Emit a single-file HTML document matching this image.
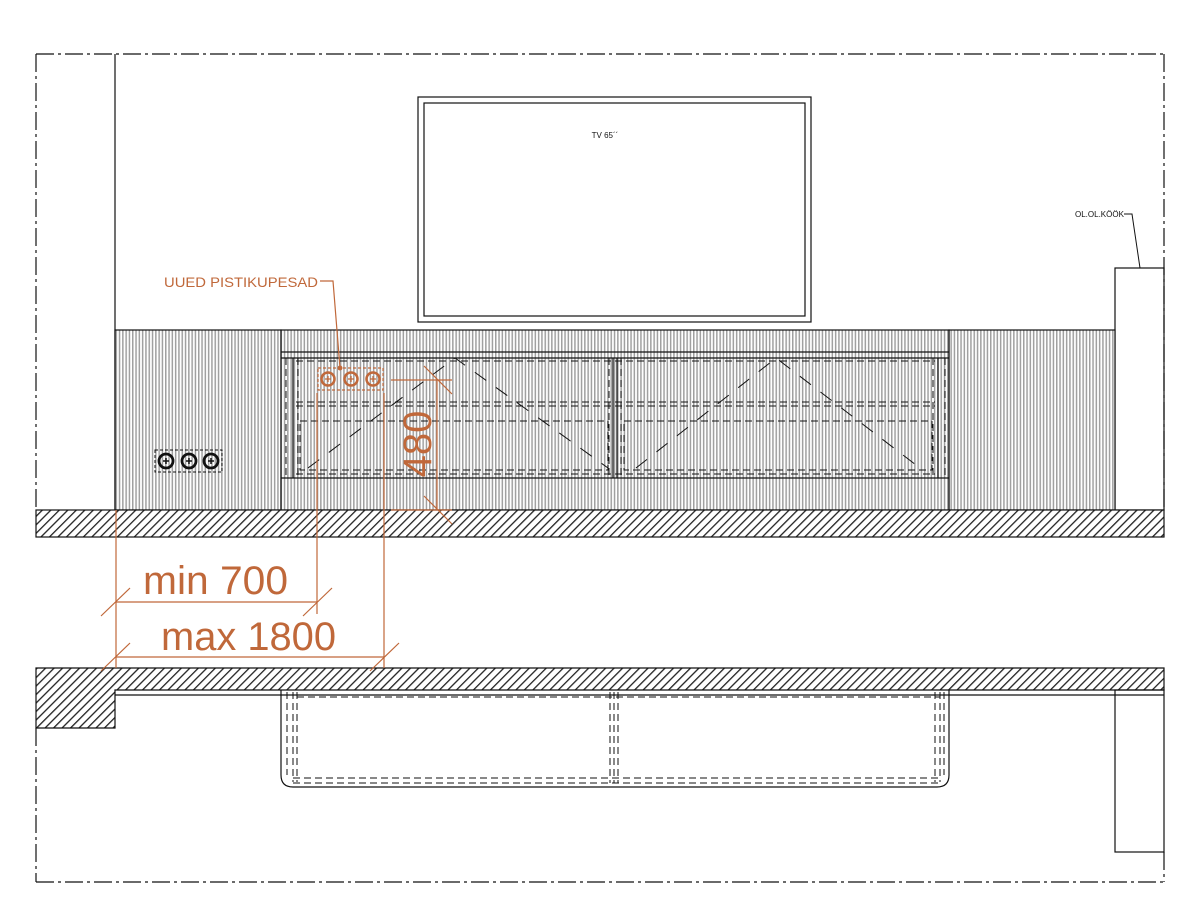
<!DOCTYPE html>
<html><head><meta charset="utf-8"><style>html,body{margin:0;padding:0;background:#fff}svg{display:block}</style></head>
<body>
<svg width="1198" height="916" viewBox="0 0 1198 916" xmlns="http://www.w3.org/2000/svg" font-family="Liberation Sans, sans-serif">
<defs>
<pattern id="flute" width="3.3" height="10" patternUnits="userSpaceOnUse"><rect width="3.3" height="10" fill="#fff"/><rect x="0" width="1.5" height="10" fill="#a0a0a0"/></pattern>
<pattern id="hatch" width="6" height="6" patternUnits="userSpaceOnUse" patternTransform="rotate(45)"><rect width="6" height="6" fill="#fff"/><rect width="1.3" height="6" fill="#222"/></pattern>
</defs>
<g fill="none" stroke="#111" stroke-width="1.2">
<g stroke-dasharray="18,4,3,4">
<line x1="36" y1="54" x2="1164" y2="54"/>
<line x1="36" y1="54" x2="36" y2="510"/>
<line x1="1164" y1="54" x2="1164" y2="510"/>
<line x1="36" y1="728" x2="36" y2="882"/>
<line x1="36" y1="882" x2="1164" y2="882"/>
<line x1="1164" y1="852" x2="1164" y2="882"/>
</g>
<line x1="115" y1="54" x2="115" y2="510"/>
<rect x="418" y="97" width="393" height="225"/>
<rect x="424" y="103" width="381" height="213"/>
<rect x="1115" y="268" width="49" height="242"/>
<rect x="115" y="330" width="166" height="180" fill="url(#flute)"/>
<rect x="949" y="330" width="166" height="180" fill="url(#flute)"/>
<rect x="281" y="330" width="668" height="180" fill="url(#flute)"/>
<line x1="281" y1="352" x2="949" y2="352"/>
<line x1="281" y1="358" x2="949" y2="358"/>
<line x1="281" y1="478" x2="949" y2="478"/>
<line x1="293" y1="358" x2="293" y2="478"/>
<line x1="613" y1="358" x2="613" y2="478"/>
<line x1="617" y1="358" x2="617" y2="478"/>
<line x1="938" y1="358" x2="938" y2="478"/>
<g stroke-dasharray="7,4" stroke-width="1">
<line x1="296" y1="361" x2="935" y2="361"/>
<line x1="296" y1="402" x2="935" y2="402"/>
<line x1="296" y1="406" x2="935" y2="406"/>
<rect x="300" y="421" width="308" height="49"/>
<rect x="624" y="421" width="308" height="49"/>
<line x1="296" y1="474" x2="935" y2="474"/>
<line x1="286" y1="358" x2="286" y2="478"/>
<line x1="298" y1="358" x2="298" y2="478"/>
<line x1="609" y1="358" x2="609" y2="478"/>
<line x1="621" y1="358" x2="621" y2="478"/>
<line x1="933" y1="358" x2="933" y2="478"/>
<line x1="945" y1="358" x2="945" y2="478"/>
</g>
<g stroke-dasharray="14,12" stroke-width="1">
<polyline points="308,468 455,358 608,468"/>
<polyline points="636,468 776,358 920,468"/>
</g>
<rect x="36" y="510" width="1128" height="27" fill="url(#hatch)"/>
<path d="M36 668 H1164 V690 H115 V728 H36 Z" fill="url(#hatch)"/>
<line x1="115" y1="695" x2="1164" y2="695"/>
<rect x="1115" y="690" width="49" height="162"/>
<path d="M281 690 V775 Q281 787 293 787 H937 Q949 787 949 775 V690"/>
<g stroke-dasharray="7,4" stroke-width="1">
<line x1="287" y1="692" x2="287" y2="775"/>
<line x1="293" y1="692" x2="293" y2="782"/>
<line x1="297" y1="692" x2="297" y2="782"/>
<line x1="297" y1="697" x2="940" y2="697"/>
<line x1="293" y1="778" x2="940" y2="778"/>
<line x1="293" y1="783" x2="940" y2="783"/>
<line x1="610" y1="692" x2="610" y2="783"/>
<line x1="614" y1="692" x2="614" y2="783"/>
<line x1="618" y1="692" x2="618" y2="783"/>
<line x1="935" y1="692" x2="935" y2="782"/>
<line x1="940" y1="692" x2="940" y2="782"/>
<line x1="944" y1="692" x2="944" y2="775"/>
</g>
<rect x="155" y="450" width="67" height="22" stroke-dasharray="3,2" stroke-width="1"/>
<g stroke-width="2.8"><circle cx="166" cy="461" r="7"/><circle cx="189" cy="461" r="7"/><circle cx="211" cy="461" r="7"/></g>
<g stroke-width="1.5"><path d="M163 461h6M166 458v6M186 461h6M189 458v6M208 461h6M211 458v6"/></g>
<polyline points="1124,214 1132,214 1140,268" stroke-width="1"/>
</g>
<text x="605" y="138" font-size="8" text-anchor="middle" fill="#111">TV 65´´</text>
<text x="1075" y="217" font-size="8" fill="#111">OL.OL.KÖÖK</text>
<g stroke="#c0683a" fill="none" stroke-width="1.2">
<rect x="318" y="368" width="65" height="22" stroke-dasharray="3,2"/>
<circle cx="328" cy="379" r="6.5" stroke-width="2.5"/><circle cx="351" cy="379" r="6.5" stroke-width="2.5"/><circle cx="373" cy="379" r="6.5" stroke-width="2.5"/>
<path d="M325 379h6M328 376v6M348 379h6M351 376v6M370 379h6M373 376v6" stroke-width="1.3"/>
<polyline points="320,281 333,281 340,368"/>
<line x1="391" y1="380" x2="452" y2="380"/>
<line x1="391" y1="510" x2="452" y2="510"/>
<line x1="437" y1="380" x2="437" y2="510"/>
<line x1="424" y1="366" x2="452" y2="394"/>
<line x1="424" y1="496" x2="452" y2="524"/>
<line x1="116" y1="510" x2="116" y2="668"/>
<line x1="317" y1="393" x2="317" y2="614"/>
<line x1="384" y1="393" x2="384" y2="668"/>
<line x1="116" y1="602" x2="317" y2="602"/>
<line x1="116" y1="657" x2="384" y2="657"/>
<line x1="101" y1="616" x2="130" y2="588"/>
<line x1="303" y1="616" x2="332" y2="588"/>
<line x1="101" y1="671" x2="130" y2="643"/>
<line x1="370" y1="671" x2="399" y2="643"/>
</g>
<circle cx="340" cy="368" r="2.5" fill="#c0683a"/>
<g fill="#c0683a">
<text x="164" y="287" font-size="14" textLength="154" lengthAdjust="spacingAndGlyphs">UUED PISTIKUPESAD</text>
<text x="143" y="594" font-size="40" textLength="145" lengthAdjust="spacingAndGlyphs">min 700</text>
<text x="161" y="650" font-size="40" textLength="175" lengthAdjust="spacingAndGlyphs">max 1800</text>
<text transform="translate(431,444) rotate(-90)" x="0" y="0" font-size="40" text-anchor="middle">480</text>
</g>
</svg>
</body></html>
